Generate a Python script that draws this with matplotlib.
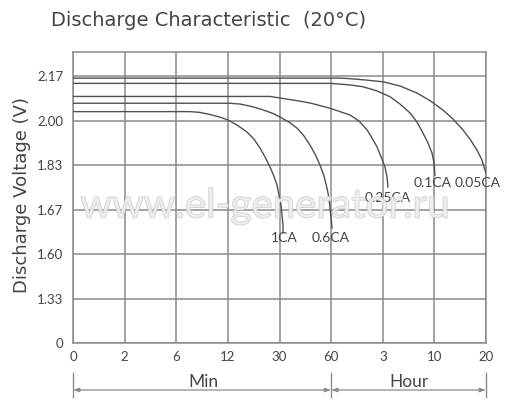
import numpy as np
import matplotlib
matplotlib.use("Agg")
import matplotlib.pyplot as plt
import matplotlib.patheffects as pe
from matplotlib.transforms import blended_transform_factory

plt.rcParams['font.family'] = ['Lato', 'DejaVu Sans']

# ---- axis tick values (non-uniform scales) ----
x_ticks_min = [0, 2, 6, 12, 30, 60, 180, 600, 1200]          # minutes
x_tick_labels = ['0', '2', '6', '12', '30', '60', '3', '10', '20']
y_ticks_v = [0, 1.33, 1.60, 1.67, 1.83, 2.00, 2.17]
y_tick_labels = ['0', '1.33', '1.60', '1.67', '1.83', '2.00', '2.17']

# ---- discharge curves: time (min) and voltage (V) ----
t_1ca = [0, 7.60, 8.76, 9.92, 11.08, 12.03, 15.17, 18.66, 21.10, 23.19, 24.94,
         26.68, 28.07, 29.12, 29.82, 30.87, 31.45, 32.03, 32.03]
v_1ca = [2.034, 2.034, 2.031, 2.023, 2.013, 2.002, 1.983, 1.956, 1.929, 1.895, 1.861,
         1.823, 1.790, 1.758, 1.722, 1.686, 1.661, 1.646, 1.633]

t_06ca = [0, 12.73, 16.22, 19.71, 22.15, 24.94, 27.72, 30.29, 35.52, 40.17, 44.24,
          47.72, 50.63, 53.53, 55.86, 57.60, 58.77, 59.35, 59.94, 62.09]
v_06ca = [2.066, 2.066, 2.063, 2.055, 2.048, 2.038, 2.027, 2.013, 1.994, 1.971, 1.941,
          1.906, 1.872, 1.830, 1.790, 1.747, 1.711, 1.675, 1.657, 1.641]

t_025ca = [0, 26.68, 30.29, 36.10, 41.91, 47.72, 53.53, 59.35, 80.69, 103.9, 124.9,
           143.5, 155.1, 166.7, 176.0, 198.3, 214.6, 222.7]
v_025ca = [2.092, 2.092, 2.086, 2.080, 2.074, 2.067, 2.057, 2.047, 2.034, 2.021, 1.998,
           1.964, 1.933, 1.899, 1.861, 1.823, 1.787, 1.751]

t_01ca = [0, 59.35, 80.69, 103.9, 134.2, 166.7, 239.0, 320.3, 401.7, 458.7, 507.5,
          548.1, 580.7, 597.0, 607.0]
v_01ca = [2.142, 2.142, 2.139, 2.136, 2.129, 2.113, 2.091, 2.063, 2.029, 1.994, 1.952,
          1.914, 1.876, 1.838, 1.794]

t_005ca = [0, 80.69, 103.9, 138.8, 182.0, 320.3, 458.7, 564.4, 700.0, 816.2, 932.4,
           1013.7, 1095.1, 1153.2, 1188.1, 1200]
v_005ca = [2.162, 2.162, 2.160, 2.155, 2.148, 2.132, 2.105, 2.076, 2.040, 2.006, 1.964,
           1.929, 1.887, 1.849, 1.812, 1.801]

curve_names = ['1CA', '0.6CA', '0.25CA', '0.1CA', '0.05CA']
curve_t = [t_1ca, t_06ca, t_025ca, t_01ca, t_005ca]
curve_v = [v_1ca, v_06ca, v_025ca, v_01ca, v_005ca]

# ---- scales ----
x_pos = np.arange(len(x_ticks_min), dtype=float)
y_pos = np.arange(len(y_ticks_v), dtype=float)
y_ext_v = y_ticks_v + [2.34]
y_ext_p = list(y_pos) + [7.0]

def xf(x):
    return np.interp(x, x_ticks_min, x_pos)

def xi(p):
    return np.interp(p, x_pos, x_ticks_min)

def yf(v):
    return np.interp(v, y_ext_v, y_ext_p)

def yi(p):
    return np.interp(p, y_ext_p, y_ext_v)

fig = plt.figure(figsize=(5.25, 4.12), dpi=100)
ax = fig.add_axes([73 / 525, 69 / 412, 413 / 525, 291 / 412])
ax.set_xscale('function', functions=(xf, xi))
ax.set_yscale('function', functions=(yf, yi))
ax.set_xlim(0, 1200)
ax.set_ylim(0, yi(6.54))

text_c = '#444444'
grid_c = '#8a8a8a'
line_c = '#505050'

ax.set_xticks(x_ticks_min)
ax.set_xticklabels(x_tick_labels)
ax.set_yticks(y_ticks_v)
ax.set_yticklabels(y_tick_labels)
ax.tick_params(length=0, labelsize=9.5, colors=text_c, pad=6)
ax.tick_params(axis='y', pad=7)
ax.grid(True, color=grid_c, linewidth=1.1)
for s in ax.spines.values():
    s.set_color(grid_c)
    s.set_linewidth(1.1)

for t, v in zip(curve_t, curve_v):
    ax.plot(t, v, color=line_c, linewidth=1.0, zorder=3)

# curve labels
label_pos = {'1CA': (32.7, 1.625), '0.6CA': (60, 1.625), '0.25CA': (222, 1.712),
             '0.1CA': (587, 1.766), '0.05CA': (1104, 1.766)}
for name in curve_names:
    x, y = label_pos[name]
    ax.text(x, y, name, ha='center', va='center', fontsize=10, color=text_c, zorder=4)

ax.set_ylabel('Discharge Voltage (V)', fontsize=13, color=text_c,
              family=['DejaVu Sans'])
ax.yaxis.set_label_coords(-0.102, 0.509)

# title
fig.text(51 / 525, 1 - 20 / 412, 'Discharge Characteristic  (20°C)', fontsize=14,
         color=text_c, ha='left', va='center', family=['DejaVu Sans'])

# watermark
fig.text(0.505, 1 - 206 / 412, 'www.el-generator.ru', fontsize=29, color='#eeeeee',
         ha='center', va='center', zorder=2, alpha=0.75,
         path_effects=[pe.withStroke(linewidth=1.0, foreground='#c4c4c4')])

# Min / Hour bracket below axis
tr = blended_transform_factory(ax.transData, ax.transAxes)
for xv in [0, 60, 1200]:
    ax.plot([xv, xv], [-0.103, -0.186], transform=tr, color=grid_c, lw=1.0, clip_on=False)
for a, b in [(0, 60), (60, 1200)]:
    ax.annotate('', xy=(a, -0.1615), xytext=(b, -0.1615), xycoords=tr, textcoords=tr,
                arrowprops=dict(arrowstyle='<|-|>,head_length=0.35,head_width=0.12',
                                color=grid_c, lw=0.9, shrinkA=0, shrinkB=0))
ax.text(xi(2.53), -0.134, 'Min', transform=tr, ha='center', va='center', fontsize=12.5, color=text_c)
ax.text(xi(6.5), -0.134, 'Hour', transform=tr, ha='center', va='center', fontsize=12.5, color=text_c)

fig.savefig('out.png', dpi=100)
